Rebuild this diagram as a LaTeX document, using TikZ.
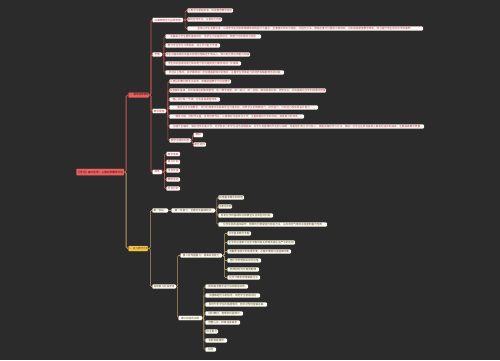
\documentclass[tikz,border=0pt]{standalone}
\usepackage{fontspec}
\newfontfamily\cjk{Noto Sans CJK SC}
\definecolor{bgc}{HTML}{2B2B2B}
\definecolor{redf}{HTML}{E8625F}
\definecolor{redl}{HTML}{C9574F}
\definecolor{redt}{HTML}{B0413C}
\definecolor{yelf}{HTML}{F5C343}
\definecolor{yell}{HTML}{B89A5E}
\definecolor{yelt}{HTML}{5A4820}
\tikzset{
  base/.style={anchor=west, rectangle, rounded corners=0.8pt, inner sep=0pt,
    minimum height=4.6pt, font=\cjk\fontsize{2.6}{3}\selectfont, line width=0.35pt, draw=black!85},
  rootbox/.style={base, fill=redf, text=black!80!red, minimum height=7pt, font=\cjk\fontsize{2.7}{3}\selectfont},
  ubr/.style={base, fill=redf, text=black!80!red, minimum height=5.5pt, font=\cjk\fontsize{2.5}{3}\selectfont},
  lbr/.style={base, fill=yelf, text=yelt, minimum height=5.5pt, font=\cjk\fontsize{2.5}{3}\selectfont},
  uk/.style={base, fill=red!3, text=redt},
  lk/.style={base, fill=yellow!4, text=yelt},
  ul/.style={draw=redl, line width=0.6pt, rounded corners=1.2pt},
  ll/.style={draw=yell, line width=0.6pt, rounded corners=1.2pt},
  ulm/.style={draw=redl, line width=0.9pt, rounded corners=1.5pt},
  llm/.style={draw=yell, line width=0.9pt, rounded corners=1.5pt}
}
\begin{document}
\begin{tikzpicture}[x=1pt,y=-1pt]
\useasboundingbox (0,0) rectangle (500,360);
\fill[bgc] (0,0) rectangle (500,360);
% root and branches
\node[rootbox, minimum width=48pt] (R) at (76,172) {【学习】高三化学：上海化学教学计划};
\node[ubr, minimum width=21pt] (U) at (128,95) {一、教学指导思想};
\node[lbr, minimum width=20pt] (L) at (128,248.5) {二、复习教学计划};
% upper level 2
\node[uk, minimum width=31pt] (a) at (152,20) {以课改理念为指导思想};
\node[uk, minimum width=10pt] (b) at (152,54.5) {学情};
\node[uk, minimum width=14pt] (c) at (152,111) {教学措施};
\node[uk, minimum width=10pt] (d) at (152,172) {其他};
% a children
\node[uk, minimum width=46pt] (a1) at (187,10.5) {认真学习课程标准，转变教育教学观念};
\node[uk, minimum width=35pt] (a2) at (187,19.5) {面向全体学生，注重能力培养};
\node[uk, minimum width=236pt] (a3) at (187,28.5) {坚持以学生发展为本，以培养学生的创新精神和实践能力为重点，全面落实知识与技能、过程与方法、情感态度与价值观三维目标，切实提高课堂教学效率，努力提升学生的化学学科素养。};
% b children
\node[uk, minimum width=96pt] (b1) at (165,36.5) {本届高三学生整体基础较好，但学生之间差异较大，两极分化现象较为明显};
\node[uk, minimum width=55pt] (b2) at (165,45.5) {部分学生学习习惯较差，自主学习能力不强};
\node[uk, minimum width=85pt] (b3) at (165,54.5) {学生对基本概念和基本原理的理解还不够深入，知识的迁移应用能力较弱};
\node[uk, minimum width=76pt] (b4) at (165,63.5) {学生的实验探究能力和综合分析问题的能力都有待进一步提高};
\node[uk, minimum width=119pt] (b5) at (165,72.5) {针对以上情况，本学期将进一步加强基础知识的落实，注重学生思维能力的培养和解题规范的训练};
% c children
\node[uk, minimum width=62pt] (c1) at (169,81.5) {认真钻研教材和考试说明，准确把握教学方向和要求};
\node[uk, minimum width=157pt] (c2) at (169,90.5) {加强集体备课，发挥备课组的集体智慧，统一教学进度、统一练习、统一测验，做到资源共享、优势互补，共同提高化学学科的教学质量};
\node[uk, minimum width=51pt] (c3) at (169,99.5) {精心设计每一节课，切实提高课堂效率};
\node[uk, minimum width=149pt] (c4) at (169,107.5) {重视化学实验教学，充分利用演示实验和学生分组实验，培养学生的观察能力、动手能力、分析能力和实验设计能力};
\node[uk, minimum width=135pt] (c5) at (169,116.5) {精选习题，控制作业量，及时批改作业，认真做好试卷讲评工作，注重错题的分析和归纳，提高复习的效率};
\node[uk, minimum width=255pt] (c6) at (169,126.5) {加强个别辅导，做好培优补差工作，对学有余力的学生适当拓展提高，对学习有困难的学生耐心辅导，帮助他们树立学习信心，掌握正确的学习方法，使每一位学生在原有基础上都有所进步和提高，全面提高教学质量};
\node[uk, minimum width=22pt] (c7) at (169,140.5) {教学资源的利用};
\node[uk, minimum width=10pt] (c7a) at (193,135) {教材};
\node[uk, minimum width=13pt] (c7b) at (193,144.5) {课外资料};
% d children
\node[uk, minimum width=14pt] (d1) at (166,154) {教学进度};
\node[uk, minimum width=14pt] (d2) at (166,162) {复习计划};
\node[uk, minimum width=14pt] (d3) at (166,170.5) {月考安排};
\node[uk, minimum width=14pt] (d4) at (166,179.5) {教研活动};
\node[uk, minimum width=14pt] (d5) at (166,188.5) {考试分析};
% lower level 2
\node[lk, minimum width=16pt] (e) at (152,210.5) {第一阶段：};
\node[lk, minimum width=44pt] (e1) at (171,210.5) {第一轮复习：全面夯实基础知识};
\node[lk, minimum width=26pt] (e1a) at (218,197.5) {梳理基本概念和原理};
\node[lk, minimum width=14pt] (e1b) at (218,206.5) {元素化合物};
\node[lk, minimum width=55pt] (e1c) at (218,215.5) {有机化学的基础知识和典型反应类型的归纳};
\node[lk, minimum width=109pt] (e1d) at (218,224.5) {化学实验的基本操作、物质的分离提纯与检验方法，以及常见气体的实验室制备与性质};
\node[lk, minimum width=24pt] (f) at (152,286.5) {后续复习阶段安排};
\node[lk, minimum width=42pt] (f1) at (180,255.5) {第二轮专题复习：提高综合能力};
\node[lk, minimum width=24pt] (f1a) at (227,233.5) {化学基本概念专题};
\node[lk, minimum width=68pt] (f1b) at (227,242.5) {化学反应速率与化学平衡的有关原理及其在生产中的应用};
\node[lk, minimum width=64pt] (f1c) at (227,251.5) {电解质溶液中的电离平衡、水解平衡和沉淀溶解平衡};
\node[lk, minimum width=34pt] (f1d) at (227,260.5) {电化学原理及其实际应用};
\node[lk, minimum width=32pt] (f1e) at (227,269.5) {物质结构与元素周期律};
\node[lk, minimum width=33pt] (f1f) at (227,277.5) {化学计算的常用解题方法};
\node[lk, minimum width=24pt] (f2) at (178,318) {第三轮综合训练};
\node[lk, minimum width=43pt] (f2a) at (205,286.5) {按照高考要求进行综合模拟训练};
\node[lk, minimum width=55pt] (f2b) at (205,295.5) {加强解题方法的指导，规范学生答题过程};
\node[lk, minimum width=62pt] (f2c) at (205,304.5) {及时分析学生的答题情况，有针对性地查漏补缺};
\node[lk, minimum width=38pt] (f2d) at (205,313.5) {回归教材，梳理和巩固知识};
\node[lk, minimum width=35pt] (f2e) at (205,322.5) {调整心态，积极迎接高考};
\node[lk, minimum width=13pt] (f2f) at (205,331.5) {自主复习};
\node[lk, minimum width=22pt] (f2g) at (205,340.5) {考前答疑辅导};
\node[lk, minimum width=11pt] (f2h) at (205,349.5) {总结};
% connectors
\draw[ulm] (R.east) -- ++(1.8,0) |- (U.west);
\draw[llm] (R.east) -- ++(1.8,0) |- (L.west);
\foreach \c in {a,b,c,d} \draw[ul] (U.east) -- ++(1.6,0) |- (\c.west);
\foreach \c in {a1,a2,a3} \draw[ul] (a.east) -- ++(1.8,0) |- (\c.west);
\foreach \c in {b1,b2,b3,b4,b5} \draw[ul] (b.east) -- ++(1.5,0) |- (\c.west);
\foreach \c in {c1,c2,c3,c4,c5,c6,c7} \draw[ul] (c.east) -- ++(1.5,0) |- (\c.west);
\foreach \c in {c7a,c7b} \draw[ul] (c7.east) -- ++(1,0) |- (\c.west);
\foreach \c in {d1,d2,d3,d4,d5} \draw[ul] (d.east) -- ++(2,0) |- (\c.west);
\foreach \c in {e,f} \draw[ll] (L.east) -- ++(2,0) |- (\c.west);
\draw[ll] (e.east) -- (e1.west);
\foreach \c in {e1a,e1b,e1c,e1d} \draw[ll] (e1.east) -- ++(1.5,0) |- (\c.west);
\foreach \c in {f1,f2} \draw[ll] (f.east) -- ++(1.2,0) |- (\c.west);
\foreach \c in {f1a,f1b,f1c,f1d,f1e,f1f} \draw[ll] (f1.east) -- ++(2,0) |- (\c.west);
\foreach \c in {f2a,f2b,f2c,f2d,f2e,f2f,f2g,f2h} \draw[ll] (f2.east) -- ++(1.5,0) |- (\c.west);
\end{tikzpicture}
\end{document}
